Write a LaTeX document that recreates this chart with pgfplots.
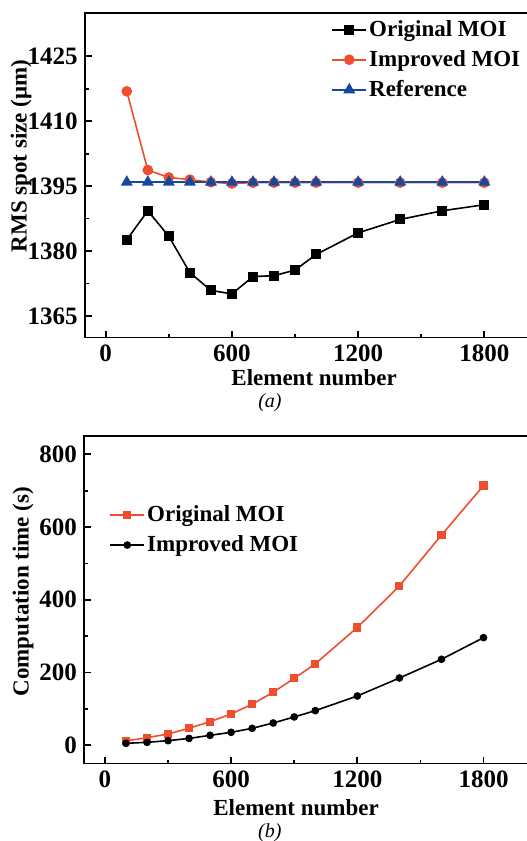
\documentclass[border=0pt]{standalone}
\usepackage{fontspec}
\setmainfont{Liberation Serif}
\usepackage{pgfplots}
\pgfplotsset{compat=1.18}

\definecolor{moired}{RGB}{238,78,46}
\definecolor{refblue}{RGB}{22,72,160}

\pgfplotsset{
  moistyle/.style={
    scale only axis, width=221.9pt,
    xmin=-100, xmax=2010,
    xtick={0,600,1200,1800},
    minor x tick num=1,
    tick align=inside,
    xtick pos=bottom, ytick pos=left,
    clip=false,
    axis line style={line width=0.85pt},
    major tick length=3.5pt, minor tick length=2pt,
    every tick/.style={black, line width=0.85pt},
    tick label style={font=\fontsize{12.5}{14}\selectfont\bfseries},
    label style={font=\fontsize{11.5}{13}\selectfont\bfseries},
    /pgf/number format/assume math mode=true,
    /pgf/number format/set thousands separator={},
    legend cell align=left,
    legend style={draw=none, fill=none, inner sep=0pt, row sep=3.5pt,
      font=\fontsize{11.5}{13}\selectfont\bfseries,
      nodes={inner xsep=1pt, inner ysep=1pt}},
  }
}

\begin{document}
\begin{tikzpicture}
% (a) RMS spot size
\begin{axis}[moistyle,
    at={(42.35pt,-6.5pt)}, anchor=north west, height=162.3pt,
    ymin=1360, ymax=1435,
    ytick={1365,1380,1395,1410,1425},
    minor y tick num=1,
    xlabel={Element number},
    ylabel={RMS spot size (μm)},
    xlabel style={at={(axis description cs:0.517,-0.124)}, anchor=center},
    ylabel style={at={(axis description cs:-0.1435,0.5595)}, anchor=center},
    legend style={at={(axis description cs:0.555,0.985)}, anchor=north west},
]
\addplot[black, line width=0.8pt, mark=square*, mark size=2.1pt] coordinates {
  (100,1382.6) (200,1389.3) (300,1383.4) (400,1375.0) (500,1370.9)
  (600,1370.1) (700,1374.1) (800,1374.3) (900,1375.6) (1000,1379.2)
  (1200,1384.2) (1400,1387.3) (1600,1389.3) (1800,1390.7)
};
\addlegendentry{Original MOI}
\addplot[moired, line width=0.8pt, mark=*, mark size=2.25pt] coordinates {
  (100,1416.9) (200,1398.7) (300,1397.0) (400,1396.5) (500,1395.9)
  (600,1395.6) (700,1395.8) (800,1395.8) (900,1395.8) (1000,1395.8)
  (1200,1395.8) (1400,1395.8) (1600,1395.8) (1800,1395.8)
};
\addlegendentry{Improved MOI}
\addplot[refblue, line width=0.8pt, mark=triangle*, mark size=2.7pt] coordinates {
  (100,1395.9) (200,1395.9) (300,1395.9) (400,1395.9) (500,1395.9)
  (600,1395.9) (700,1395.9) (800,1395.9) (900,1395.9) (1000,1395.9)
  (1200,1395.9) (1400,1395.9) (1600,1395.9) (1800,1395.9)
};
\addlegendentry{Reference}
\node[font=\fontsize{10}{12}\selectfont\itshape] at (axis description cs:0.4175,-0.2015) {(a)};
\end{axis}

% (b) Computation time
\begin{axis}[moistyle,
    at={(41.95pt,-218.05pt)}, anchor=north west, height=163.7pt,
    ymin=-50, ymax=850,
    ytick={0,200,400,600,800},
    minor y tick num=1,
    xlabel={Element number},
    ylabel={Computation time (s)},
    xlabel style={at={(axis description cs:0.478,-0.136)}, anchor=center},
    ylabel style={at={(axis description cs:-0.137,0.525)}, anchor=center},
    legend style={at={(axis description cs:0.0566,0.795)}, anchor=north west},
]
\addplot[moired, line width=0.8pt, mark=square*, mark size=1.65pt] coordinates {
  (100,12) (200,21) (300,31) (400,47) (500,65)
  (600,86) (700,113) (800,146) (900,184) (1000,224)
  (1200,324) (1400,438) (1600,578) (1800,714)
};
\addlegendentry{Original MOI}
\addplot[black, line width=0.8pt, mark=*, mark size=1.5pt] coordinates {
  (100,5.5) (200,8.2) (300,12.8) (400,19) (500,27.5)
  (600,35.7) (700,46.7) (800,61.4) (900,78) (1000,95.3)
  (1200,135.6) (1400,185) (1600,236.4) (1800,296)
};
\addlegendentry{Improved MOI}
\node[font=\fontsize{10}{12}\selectfont\itshape] at (axis description cs:0.419,-0.212) {(b)};
\end{axis}
\pgfresetboundingbox
\useasboundingbox (0,0) rectangle (263pt,-420.5pt);
\end{tikzpicture}
\end{document}
